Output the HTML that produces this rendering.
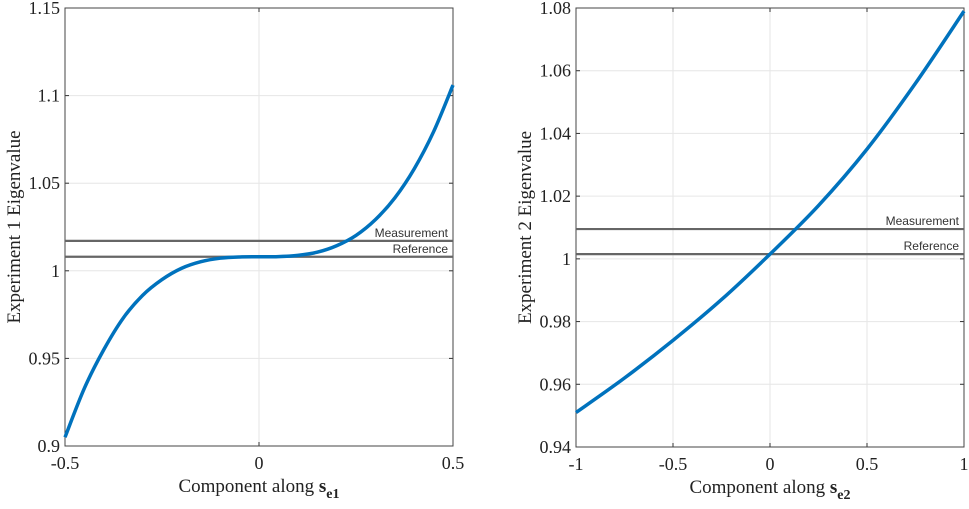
<!DOCTYPE html>
<html><head><meta charset="utf-8"><style>
html,body{margin:0;padding:0;background:#fff;}
svg{display:block;font-family:"Liberation Serif",serif;}
</style></head><body>
<svg id="chart" width="969" height="509"></svg>
<script>
const leftX=[-0.5,-0.45,-0.4,-0.35,-0.3,-0.25,-0.2,-0.15,-0.1,-0.05,0,0.05,0.1,0.15,0.2,0.25,0.3,0.35,0.4,0.45,0.5];
const leftY=[0.905,0.933,0.955,0.973,0.986,0.995,1.0014,1.0052,1.0072,1.0079,1.008,1.0081,1.0088,1.0106,1.0143,1.0202,1.0292,1.0416,1.0582,1.0794,1.106];
const rightX=[-1,-0.75,-0.5,-0.25,0,0.25,0.5,0.75,1];
const rightY=[0.951,0.962,0.974,0.987,1.0015,1.017,1.035,1.056,1.079];
const leftXTicks=[-0.5,0,0.5];
const leftYTicks=[0.9,0.95,1,1.05,1.1,1.15];
const leftYTickLabels=["0.9","0.95","1","1.05","1.1","1.15"];
const rightXTicks=[-1,-0.5,0,0.5,1];
const rightXTickLabels=["-1","-0.5","0","0.5","1"];
const rightYTicks=[0.94,0.96,0.98,1,1.02,1.04,1.06,1.08];
const rightYTickLabels=["0.94","0.96","0.98","1","1.02","1.04","1.06","1.08"];
const leftRefLines=[1.0171,1.008];
const rightRefLines=[1.0095,1.0015];
const refLabels=["Measurement","Reference"];

const NS="http://www.w3.org/2000/svg";
const svg=document.getElementById('chart');
function mk(tag,attrs,parent){const e=document.createElementNS(NS,tag);for(const k in attrs)e.setAttribute(k,attrs[k]);(parent||svg).appendChild(e);return e;}
function smoothPath(P){
  let d='M'+P[0][0].toFixed(2)+','+P[0][1].toFixed(2);
  for(let i=0;i<P.length-1;i++){
    const p0=P[Math.max(i-1,0)],p1=P[i],p2=P[i+1],p3=P[Math.min(i+2,P.length-1)];
    const c1=[p1[0]+(p2[0]-p0[0])/6,p1[1]+(p2[1]-p0[1])/6];
    const c2=[p2[0]-(p3[0]-p1[0])/6,p2[1]-(p3[1]-p1[1])/6];
    d+=' C'+c1[0].toFixed(2)+','+c1[1].toFixed(2)+' '+c2[0].toFixed(2)+','+c2[1].toFixed(2)+' '+p2[0].toFixed(2)+','+p2[1].toFixed(2);
  }
  return d;
}

function panel(p){
  const g=mk('g',{});
  
  
  const sx=v=>p.x0+(v-p.xmin)/(p.xmax-p.xmin)*(p.x1-p.x0);
  const sy=v=>p.y1-(v-p.ymin)/(p.ymax-p.ymin)*(p.y1-p.y0);
  p.xt.forEach((t,i)=>{
    const l=mk('line',{x1:sx(t),x2:sx(t),y1:p.y0,y2:p.y1,stroke:'#e6e6e6','stroke-width':1},g);
    
    
    mk('line',{x1:sx(t),x2:sx(t),y1:p.y1,y2:p.y1-4,stroke:'#333'},g);
    mk('line',{x1:sx(t),x2:sx(t),y1:p.y0,y2:p.y0+4,stroke:'#333'},g);
    const tx=mk('text',{x:sx(t),y:p.y1+23,'text-anchor':'middle','font-size':18,fill:'#222'},g);
    tx.textContent=p.xl[i];
    
    
  });
  p.yt.forEach((t,i)=>{
    const l=mk('line',{x1:p.x0,x2:p.x1,y1:sy(t),y2:sy(t),stroke:'#e6e6e6','stroke-width':1},g);
    
    
    mk('line',{x1:p.x0,x2:p.x0+4,y1:sy(t),y2:sy(t),stroke:'#333'},g);
    mk('line',{x1:p.x1,x2:p.x1-4,y1:sy(t),y2:sy(t),stroke:'#333'},g);
    const tx=mk('text',{x:p.x0-5,y:sy(t)+6,'text-anchor':'end','font-size':18,fill:'#222'},g);
    tx.textContent=p.yl[i];
    
    
  });
  const box=mk('rect',{x:p.x0,y:p.y0,width:p.x1-p.x0,height:p.y1-p.y0,fill:'none',stroke:'#444','stroke-width':1},g);
  
  
  p.refs.forEach((v,i)=>{
    const l=mk('line',{x1:p.x0,x2:p.x1,y1:sy(v),y2:sy(v),stroke:'#666','stroke-width':2.2},g);
    
    
    const tx=mk('text',{x:p.x1-5,y:sy(v)-4,'text-anchor':'end','font-size':12,fill:'#333','font-family':'Liberation Sans, sans-serif'},g);
    tx.textContent=refLabels[i];
    
    
  });
  const P=p.dx.map((x,i)=>[sx(x),sy(p.dy[i])]);
  const pl=mk('path',{d:smoothPath(P),fill:'none',stroke:'#0072bd','stroke-width':3.5,'stroke-linejoin':'round'},g);
  
  
  const yt=mk('text',{x:0,y:0,'text-anchor':'middle','font-size':19,fill:'#222',transform:`translate(${p.ytx},${(p.y0+p.y1)/2}) rotate(-90)`},g);
  yt.textContent=p.ytitle;
  
  
  const xt=mk('text',{x:(p.x0+p.x1)/2,y:p.y1+46,'text-anchor':'middle','font-size':19,fill:'#222'},g);
  
  
  xt.innerHTML='Component along <tspan font-weight="bold">s</tspan><tspan font-weight="bold" font-size="14" dy="6">'+p.sub+'</tspan>';
}
panel({name:'left-panel',x0:65,x1:453,y0:8,y1:446,xmin:-0.5,xmax:0.5,ymin:0.9,ymax:1.15,xt:leftXTicks,xl:["-0.5","0","0.5"],yt:leftYTicks,yl:leftYTickLabels,refs:leftRefLines,dx:leftX,dy:leftY,ytitle:'Experiment 1 Eigenvalue',ytx:20,sub:'e1'});
panel({name:'right-panel',x0:576,x1:964,y0:8,y1:447,xmin:-1,xmax:1,ymin:0.94,ymax:1.08,xt:rightXTicks,xl:rightXTickLabels,yt:rightYTicks,yl:rightYTickLabels,refs:rightRefLines,dx:rightX,dy:rightY,ytitle:'Experiment 2 Eigenvalue',ytx:531,sub:'e2'});
</script>
</body></html>
